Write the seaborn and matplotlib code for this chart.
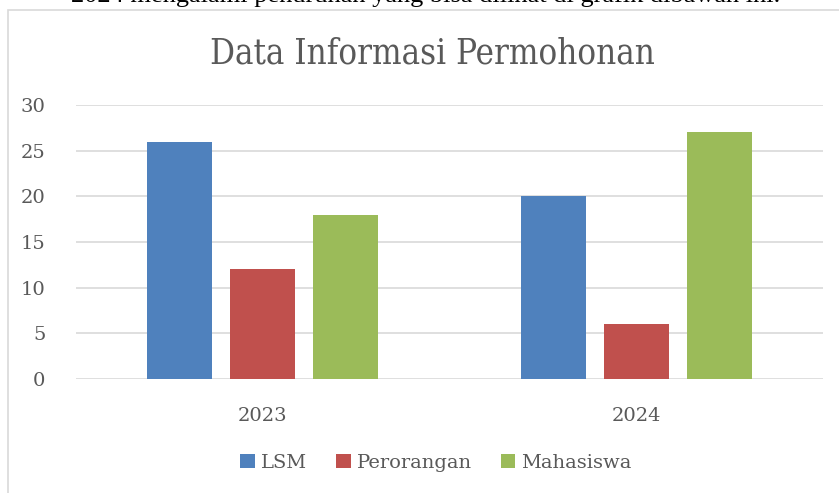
import pandas as pd
import matplotlib.pyplot as plt
import seaborn as sns
from matplotlib.patches import Rectangle

# --- data ---
years = ['2023', '2024']
kategori = ['LSM', 'Perorangan', 'Mahasiswa']
lsm = [26, 20]
perorangan = [12, 6]
mahasiswa = [18, 27]
warna = ['#4F81BD', '#C0504D', '#9BBB59']

df = pd.DataFrame({
    'tahun': years * 3,
    'kategori': [k for k in kategori for _ in years],
    'jumlah': lsm + perorangan + mahasiswa,
})

sns.set_theme(style='white')
plt.rcParams['font.family'] = ['DejaVu Serif']

W, H = 839, 493
fig = plt.figure(figsize=(W / 100, H / 100), dpi=100)
ax = fig.add_axes([76 / W, 1 - 379 / H, (823 - 76) / W, (379 - 105) / H])

# chart frame (light gray border, runs off right/bottom)
fig.patches.append(Rectangle((8 / W, -0.05), 1.1, 1 - 10 / H + 0.05,
                             transform=fig.transFigure, fill=False,
                             edgecolor='#d9d9d9', linewidth=1.2, zorder=0))

# cut-off sentence above the chart
fig.text(780 / W, 1 - 2 / H, '2024 mengalami penurunan yang bisa dilihat di grafik dibawah ini.',
         ha='right', va='baseline', fontsize=19, color='black',
         family=['Liberation Serif', 'DejaVu Serif'])

sns.barplot(data=df, x='tahun', y='jumlah', hue='kategori', hue_order=kategori,
            palette=warna, width=0.667, gap=0.217, saturation=1, linewidth=0,
            ax=ax, zorder=3)

ax.set_xlim(-0.5, 1.5)
ax.set_ylim(0, 30)
ax.set_yticks(range(0, 31, 5))
ax.grid(axis='y', color='#d9d9d9', linewidth=1.2, zorder=0)
ax.set_axisbelow(True)
sns.despine(ax=ax, left=True, bottom=True, top=True, right=True)
ax.tick_params(axis='both', length=0, labelsize=14, labelcolor='#595959')
ax.tick_params(axis='y', pad=22)
ax.tick_params(axis='x', pad=20)
ax.set_xlabel('')
ax.set_ylabel('')

fig.text(432 / W, 1 - 53 / H, 'Data Informasi Permohonan', ha='center', va='center',
         fontsize=25, fontstretch='condensed', color='#595959')

ax.legend_.remove()
handles, labels = ax.get_legend_handles_labels()
fig.legend(handles, labels, loc='center', bbox_to_anchor=(436 / W, 1 - 463 / H),
           ncol=3, frameon=False, fontsize=14, handlelength=0.75, handleheight=0.75,
           handletextpad=0.3, columnspacing=1.5, labelcolor='#595959')

fig.savefig('out.png', dpi=100)
